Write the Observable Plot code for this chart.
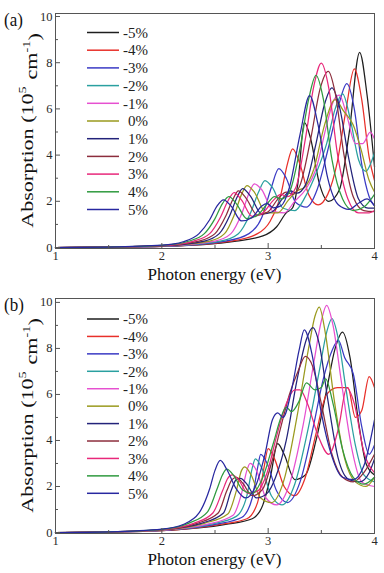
<!DOCTYPE html>
<html><head><meta charset="utf-8">
<script src="https://cdn.jsdelivr.net/npm/d3@7"></script>
<script src="https://cdn.jsdelivr.net/npm/@observablehq/plot@0.6"></script>
<style>
body{margin:0;background:#fff;}
#wrap{position:relative;width:384px;height:573px;}
#wrap svg{display:block;}
#wrap svg text{font-family:"Liberation Serif","Times New Roman",serif;}
</style></head><body><div id="wrap"></div>
<script>
const strains = ["-5%","-4%","-3%","-2%","-1%","0%","1%","2%","3%","4%","5%"];
const colors  = ["#1e1e1e","#e8302a","#3a3ac4","#2aa0a0","#e650d0","#9a9a1e","#23237a","#8c2d3c","#e8287a","#2f9a3f","#2828a0"];
const xTicks = [1,2,3,4];
const xMinor = [1.5,2.5,3.5];
const yTicks = [0,2,4,6,8,10];
const yMinor = [1,3,5,7,9];

// Panel (a): [photon energy (eV), absorption (1e5 cm^-1)]
const a_m5 = [[1,0],[1.5,0.02],[2,0.05],[2.7,0.28],[2.95,0.5],[3.08,0.9],[3.17,1.5],[3.23,1.72],[3.28,2.8],[3.34,5.42],[3.4,4.7],[3.48,2.8],[3.57,2.0],[3.67,2.5],[3.76,4.9],[3.86,8.45],[3.93,6.6],[4,3.5]];
const a_m4 = [[1,0],[1.5,0.02],[2,0.05],[2.65,0.28],[2.9,0.6],[3.02,1.15],[3.12,2.3],[3.18,3.6],[3.23,4.27],[3.3,3.6],[3.38,2.3],[3.47,1.85],[3.56,2.3],[3.65,3.7],[3.73,5.9],[3.81,7.73],[3.88,6.4],[3.95,3.9],[4,2.9]];
const a_m3 = [[1,0],[1.5,0.02],[2,0.05],[2.6,0.28],[2.82,0.6],[2.94,1.3],[3.03,2.6],[3.1,3.41],[3.17,3.0],[3.26,1.95],[3.36,1.75],[3.46,2.5],[3.56,4.2],[3.66,6.1],[3.74,7.09],[3.81,6.0],[3.88,3.6],[3.95,2.2],[4,1.8]];
const a_m2 = [[1,0],[1.5,0.02],[2,0.06],[2.55,0.28],[2.72,0.6],[2.83,1.45],[2.91,2.4],[2.97,2.9],[3.04,2.6],[3.14,1.7],[3.25,1.6],[3.35,2.2],[3.45,3.2],[3.55,4.5],[3.63,6.0],[3.7,6.65],[3.77,5.6],[3.85,3.8],[3.92,3.3],[3.97,3.7],[4,4.1]];
const a_m1 = [[1,0],[1.5,0.02],[2,0.06],[2.5,0.28],[2.65,0.6],[2.75,1.45],[2.82,2.35],[2.87,2.76],[2.94,2.5],[3.05,1.55],[3.15,1.5],[3.25,2.0],[3.35,2.5],[3.45,3.4],[3.55,5.3],[3.62,6.4],[3.67,6.6],[3.74,5.7],[3.82,4.5],[3.89,4.5],[3.96,5.0],[4,4.7]];
const a_0  = [[1,0],[1.5,0.02],[2,0.07],[2.45,0.28],[2.59,0.6],[2.68,1.4],[2.75,2.3],[2.8,2.68],[2.87,2.4],[2.98,1.5],[3.09,1.5],[3.19,2.05],[3.27,2.45],[3.34,2.6],[3.43,3.4],[3.53,5.3],[3.63,6.4],[3.71,5.9],[3.8,5.3],[3.87,4.3],[3.95,2.9],[4,2.4]];
const a_p1 = [[1,0],[1.5,0.02],[2,0.07],[2.4,0.28],[2.54,0.6],[2.64,1.4],[2.71,2.2],[2.76,2.55],[2.83,2.25],[2.94,1.45],[3.04,1.55],[3.14,2.15],[3.21,2.45],[3.27,2.35],[3.35,2.7],[3.45,4.5],[3.53,6.2],[3.6,6.91],[3.67,6.1],[3.76,3.8],[3.85,2.1],[3.94,1.7],[4,1.7]];
const a_p2 = [[1,0],[1.5,0.02],[2,0.08],[2.35,0.28],[2.5,0.6],[2.6,1.35],[2.67,2.1],[2.72,2.45],[2.79,2.15],[2.9,1.4],[3.0,1.55],[3.1,2.15],[3.17,2.4],[3.23,2.3],[3.3,2.7],[3.4,4.7],[3.49,6.9],[3.565,7.63],[3.63,6.7],[3.71,4.1],[3.8,2.2],[3.9,1.6],[4,1.55]];
const a_p3 = [[1,0],[1.5,0.02],[2,0.08],[2.3,0.28],[2.45,0.6],[2.55,1.3],[2.62,2.0],[2.68,2.38],[2.75,2.05],[2.85,1.35],[2.95,1.5],[3.05,2.05],[3.12,2.3],[3.18,2.2],[3.26,2.6],[3.35,4.7],[3.43,7.0],[3.5,7.98],[3.57,6.9],[3.65,4.1],[3.75,2.1],[3.85,1.5],[3.95,1.5],[4,1.6]];
const a_p4 = [[1,0],[1.5,0.02],[2,0.09],[2.25,0.27],[2.4,0.6],[2.5,1.25],[2.57,1.9],[2.63,2.2],[2.7,1.9],[2.8,1.25],[2.9,1.4],[3.0,1.95],[3.06,2.2],[3.12,2.1],[3.2,2.4],[3.3,4.3],[3.38,6.4],[3.45,7.45],[3.52,6.4],[3.6,3.8],[3.7,2.1],[3.8,1.6],[3.9,1.75],[4,2.3]];
const a_p5 = [[1,0],[1.5,0.02],[2,0.1],[2.2,0.25],[2.35,0.6],[2.45,1.2],[2.52,1.8],[2.58,2.06],[2.65,1.8],[2.75,1.15],[2.85,1.3],[2.94,1.8],[2.99,1.9],[3.05,1.72],[3.12,1.8],[3.2,2.6],[3.3,4.9],[3.39,6.58],[3.47,5.3],[3.56,3.0],[3.66,1.85],[3.76,1.65],[3.86,1.95],[3.93,2.1],[4,1.8]];

// Panel (b)
const b_m5 = [[1,0],[1.5,0.02],[2,0.08],[2.6,0.35],[2.85,0.6],[2.95,1.2],[3.02,2.4],[3.09,3.86],[3.15,3.4],[3.25,2.3],[3.35,2.5],[3.45,4.0],[3.55,6.2],[3.63,8.0],[3.7,8.71],[3.77,7.6],[3.85,4.8],[3.92,3.0],[4,2.5]];
const b_m4 = [[1,0],[1.5,0.02],[2,0.08],[2.55,0.35],[2.8,0.6],[2.9,1.3],[2.96,2.8],[3.0,3.65],[3.06,3.2],[3.15,2.0],[3.25,1.6],[3.35,2.4],[3.45,4.3],[3.55,6.0],[3.65,6.3],[3.75,6.3],[3.82,5.0],[3.88,5.3],[3.95,6.78],[4,6.3]];
const b_m3 = [[1,0],[1.5,0.02],[2,0.09],[2.5,0.35],[2.75,0.65],[2.85,1.5],[2.9,2.8],[2.93,3.4],[2.99,3.0],[3.08,1.8],[3.18,1.3],[3.3,2.2],[3.42,4.5],[3.52,6.7],[3.6,7.9],[3.66,8.35],[3.72,7.6],[3.8,6.9],[3.88,4.6],[3.95,3.4],[4,3.8]];
const b_m2 = [[1,0],[1.5,0.02],[2,0.1],[2.45,0.35],[2.7,0.7],[2.8,1.6],[2.85,2.8],[2.88,3.2],[2.94,2.8],[3.03,1.6],[3.13,1.2],[3.25,2.1],[3.38,4.6],[3.48,7.0],[3.55,8.7],[3.6,9.29],[3.66,8.4],[3.73,6.3],[3.82,3.8],[3.9,2.5],[4,2.2]];
const b_m1 = [[1,0],[1.5,0.02],[2,0.1],[2.42,0.35],[2.67,0.75],[2.75,1.7],[2.8,2.7],[2.83,3.0],[2.89,2.7],[2.98,1.5],[3.08,1.2],[3.2,2.1],[3.33,4.7],[3.43,7.4],[3.5,9.2],[3.55,9.87],[3.61,9.0],[3.69,6.5],[3.78,3.8],[3.88,2.2],[4,2.0]];
const b_0  = [[1,0],[1.5,0.02],[2,0.11],[2.4,0.4],[2.62,0.8],[2.7,1.8],[2.75,2.7],[2.78,2.85],[2.84,2.5],[2.93,1.5],[3.03,1.3],[3.15,2.3],[3.27,5.0],[3.38,8.0],[3.44,9.4],[3.48,9.8],[3.54,8.6],[3.62,5.8],[3.72,3.2],[3.82,2.2],[3.92,2.0],[4,2.4]];
const b_p1 = [[1,0],[1.5,0.03],[2,0.12],[2.37,0.4],[2.58,0.85],[2.65,1.8],[2.7,2.3],[2.74,2.35],[2.8,2.1],[2.89,1.5],[2.99,1.7],[3.07,2.4],[3.17,4.0],[3.27,6.6],[3.36,8.4],[3.42,8.9],[3.48,8.2],[3.56,5.8],[3.66,3.2],[3.76,2.3],[3.86,2.2],[3.95,2.6],[4,3.2]];
const b_p2 = [[1,0],[1.5,0.03],[2,0.12],[2.33,0.4],[2.53,0.85],[2.61,1.8],[2.66,2.3],[2.7,2.4],[2.76,2.15],[2.85,1.6],[2.95,1.9],[3.03,3.0],[3.12,4.6],[3.2,6.0],[3.28,7.0],[3.35,7.65],[3.42,7.2],[3.5,5.6],[3.6,3.4],[3.7,2.4],[3.8,2.2],[3.9,2.6],[4,3.4]];
const b_p3 = [[1,0],[1.5,0.03],[2,0.13],[2.3,0.4],[2.48,0.85],[2.57,1.8],[2.62,2.35],[2.66,2.5],[2.72,2.3],[2.81,1.7],[2.9,1.8],[2.99,2.6],[3.08,4.2],[3.17,5.6],[3.25,6.2],[3.3,6.2],[3.37,5.6],[3.47,4.2],[3.57,3.4],[3.66,4.5],[3.74,6.3],[3.81,5.6],[3.9,3.5],[4,2.6]];
const b_p4 = [[1,0],[1.5,0.03],[2,0.14],[2.25,0.4],[2.43,0.9],[2.52,1.9],[2.57,2.5],[2.61,2.75],[2.68,2.45],[2.76,1.85],[2.85,1.7],[2.95,2.4],[3.05,3.9],[3.12,5.0],[3.17,5.45],[3.22,5.25],[3.29,5.7],[3.36,6.5],[3.44,6.2],[3.5,6.3],[3.54,6.68],[3.61,5.6],[3.7,3.6],[3.8,2.4],[3.9,2.1],[4,2.4]];
const b_p5 = [[1,0],[1.5,0.03],[2,0.15],[2.2,0.35],[2.35,0.85],[2.45,1.9],[2.5,2.7],[2.55,3.13],[2.61,2.75],[2.7,1.9],[2.79,1.5],[2.88,2.0],[2.97,3.4],[3.04,4.9],[3.09,5.2],[3.14,5.0],[3.22,6.2],[3.29,7.9],[3.34,8.81],[3.41,7.8],[3.5,5.2],[3.6,3.3],[3.7,2.4],[3.8,2.3],[3.9,2.9],[4,4.9]];

const seriesA = [a_m5,a_m4,a_m3,a_m2,a_m1,a_0,a_p1,a_p2,a_p3,a_p4,a_p5];
const seriesB = [b_m5,b_m4,b_m3,b_m2,b_m1,b_0,b_p1,b_p2,b_p3,b_p4,b_p5];

const FONT = "'Liberation Serif', 'Times New Roman', serif";
const ML = 55, MR = 10, MT = 13;

function panel(series, tag, height, marginBottom, yMax, legTop, legStep) {
  const rows = [];
  series.forEach((pts, i) => pts.forEach(([e, a]) => rows.push({strain: strains[i], e, a})));
  const yMin = -0.043;
  const innerH = height - MT - marginBottom;
  const yPerPx = (yMax - yMin) / innerH;
  const xPerPx = 3 / (384 - ML - MR);
  const plot = Plot.plot({
    width: 384, height, marginLeft: ML, marginRight: MR, marginTop: MT, marginBottom,
    x: {domain: [1, 4], label: null},
    y: {domain: [yMin, yMax], label: null},
    color: {domain: strains, range: colors},
    style: {fontFamily: FONT, fontSize: "12.5px", color: "#2a2a2a", background: "#fff"},
    marks: [
      Plot.line(rows, {x: "e", y: "a", stroke: "strain", z: "strain", curve: "monotone-x", strokeWidth: 1.25}),
      Plot.frame({stroke: "#555", strokeWidth: 1}),
      Plot.ruleX(xTicks, {x: d => d, y1: yMin, y2: yMin + 5 * yPerPx, stroke: "#555"}),
      Plot.ruleX(xMinor, {x: d => d, y1: yMin, y2: yMin + 3 * yPerPx, stroke: "#555"}),
      Plot.ruleY(yTicks, {y: d => d, x1: 1, x2: 1 + 5 * xPerPx, stroke: "#555"}),
      Plot.ruleY(yMinor, {y: d => d, x1: 1, x2: 1 + 3 * xPerPx, stroke: "#555"}),
      Plot.axisX({ticks: xTicks, tickSize: 0, tickPadding: 3, tickFormat: d3.format("d"), label: null}),
      Plot.axisY({ticks: yTicks, tickSize: 0, tickPadding: 3, tickFormat: d3.format("d"), label: null})
    ]
  });
  const svg = d3.select(plot);
  // legend
  const g = svg.append("g").attr("font-size", 15);
  strains.forEach((s, i) => {
    const y = legTop + legStep * i;
    g.append("line").attr("x1", 87).attr("x2", 119).attr("y1", y).attr("y2", y)
      .attr("stroke", colors[i]).attr("stroke-width", 1.5);
    g.append("text").attr("x", 148).attr("y", y).attr("dy", "0.35em")
      .attr("text-anchor", "end").attr("fill", "#222").text(s);
  });
  // axis titles
  const t = svg.append("g").attr("font-size", 17).attr("fill", "#111");
  t.append("text").attr("x", (ML + 384 - MR) / 2).attr("y", height - marginBottom + 26)
    .attr("dy", "0.35em").attr("text-anchor", "middle").text("Photon energy (eV)");
  const yt = t.append("text").attr("transform", `translate(27,${MT + innerH / 2}) rotate(-90) scale(1.3,1)`)
    .attr("text-anchor", "middle").attr("dy", "0.35em").attr("font-size", 17);
  yt.append("tspan").text("Absorption (10");
  yt.append("tspan").attr("font-size", 11).attr("dy", "-0.6em").text("5");
  yt.append("tspan").attr("dy", "0.6em").attr("dx", "1").text(" cm");
  yt.append("tspan").attr("font-size", 11).attr("dy", "-0.6em").text("-1");
  yt.append("tspan").attr("dy", "0.6em").text(")");
  t.append("text").attr("transform", "translate(4,19) scale(1,1.15)").attr("dy", "0.35em").attr("text-anchor", "start").text(tag);
  return plot;
}

const wrap = document.getElementById("wrap");
wrap.appendChild(panel(seriesA, "(a)", 285, 37, 10.13, 32.5, 17.7));
wrap.appendChild(panel(seriesB, "(b)", 288, 40, 10.17, 34, 17.43));
</script></body></html>
